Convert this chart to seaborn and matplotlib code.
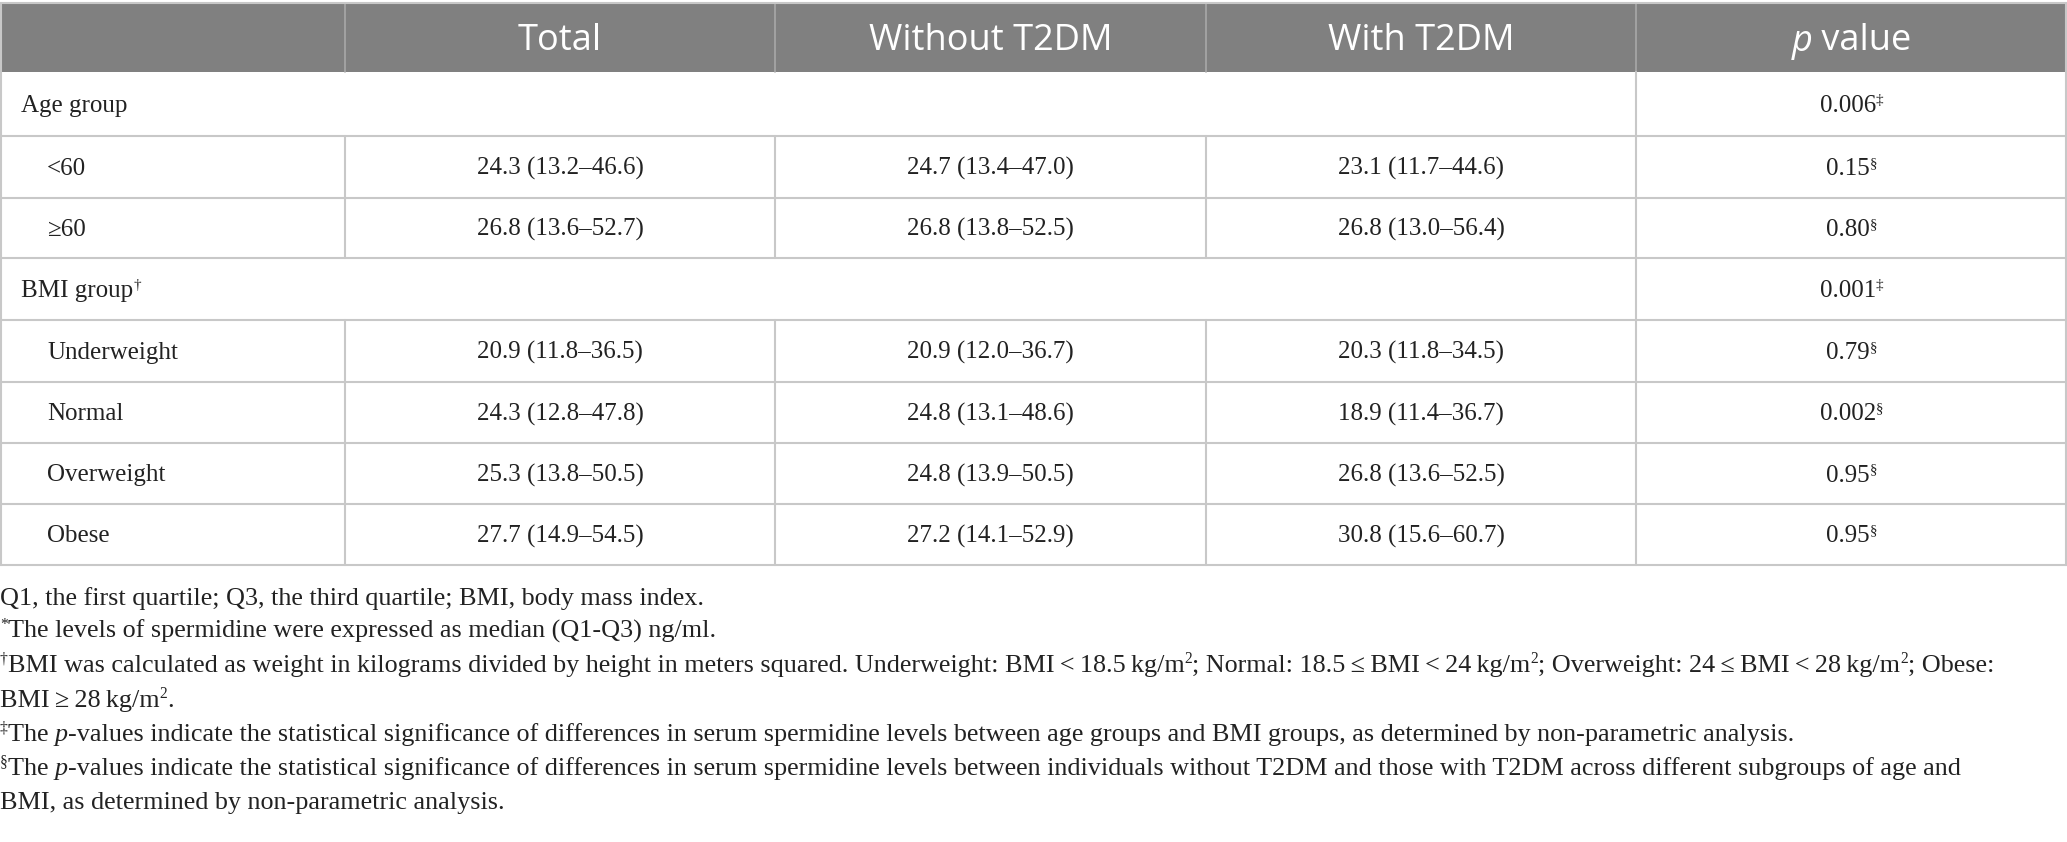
import matplotlib.pyplot as plt
import seaborn as sns

# table values: median (Q1-Q3) ng/ml, None for the group header rows
row_labels = ["Age group", "<60", "≥60", "BMI group", "Underweight", "Normal", "Overweight", "Obese"]
is_group = [True, False, False, True, False, False, False, False]
label_marks = ["", "", "", "†", "", "", "", ""]

total_med = [None, 24.3, 26.8, None, 20.9, 24.3, 25.3, 27.7]
total_q1 = [None, 13.2, 13.6, None, 11.8, 12.8, 13.8, 14.9]
total_q3 = [None, 46.6, 52.7, None, 36.5, 47.8, 50.5, 54.5]

without_med = [None, 24.7, 26.8, None, 20.9, 24.8, 24.8, 27.2]
without_q1 = [None, 13.4, 13.8, None, 12.0, 13.1, 13.9, 14.1]
without_q3 = [None, 47.0, 52.5, None, 36.7, 48.6, 50.5, 52.9]

with_med = [None, 23.1, 26.8, None, 20.3, 18.9, 26.8, 30.8]
with_q1 = [None, 11.7, 13.0, None, 11.8, 11.4, 13.6, 15.6]
with_q3 = [None, 44.6, 56.4, None, 34.5, 36.7, 52.5, 60.7]

p_values = ["0.006", "0.15", "0.80", "0.001", "0.79", "0.002", "0.95", "0.95"]
p_marks = ["‡", "§", "§", "‡", "§", "§", "§", "§"]

headers = ["", "Total", "Without T2DM", "With T2DM", "p value"]

TS = "\u2009"
footnotes = [
    [("Q1, the first quartile; Q3, the third quartile; BMI, body mass index.", "n")],
    [("*", "s"), ("The levels of spermidine were expressed as median (Q1-Q3) ng/ml.", "n")],
    [("†", "s"), ("BMI was calculated as weight in kilograms divided by height in meters squared. Underweight: BMI" + TS + "<" + TS + "18.5" + TS + "kg/m", "n"),
     ("2", "s"), ("; Normal: 18.5" + TS + "≤" + TS + "BMI" + TS + "<" + TS + "24" + TS + "kg/m", "n"),
     ("2", "s"), ("; Overweight: 24" + TS + "≤" + TS + "BMI" + TS + "<" + TS + "28" + TS + "kg/m", "n"),
     ("2", "s"), ("; Obese:", "n")],
    [("BMI" + TS + "≥" + TS + "28" + TS + "kg/m", "n"), ("2", "s"), (".", "n")],
    [("‡", "s"), ("The ", "n"), ("p", "i"), ("-values indicate the statistical significance of differences in serum spermidine levels between age groups and BMI groups, as determined by non-parametric analysis.", "n")],
    [("§", "s"), ("The ", "n"), ("p", "i"), ("-values indicate the statistical significance of differences in serum spermidine levels between individuals without T2DM and those with T2DM across different subgroups of age and", "n")],
    [("BMI, as determined by non-parametric analysis.", "n")],
]

sns.set_style("white")
plt.rcParams["font.family"] = ["Liberation Serif", "DejaVu Serif"]

W, H = 2067, 842
fig = plt.figure(figsize=(W / 100, H / 100), dpi=100)
ax = fig.add_axes([0, 0, 1, 1])
ax.set_xlim(0, W)
ax.set_ylim(H, 0)
ax.axis("off")
renderer = fig.canvas.get_renderer()

col_x = [0, 345, 775, 1206, 1636, W]
head_top, head_bot = 3, 72
row_y = [72, 136, 198, 258, 320, 382, 443, 504, 565]
header_grey = "#808080"
line_grey = "#c8c8c8"
body_size = 18
head_size = 26
sup_scale = 0.6


def text_width(s, **kw):
    # width including trailing spaces
    t1 = ax.text(0, 0, s + "|", **kw)
    t2 = ax.text(0, 0, "|", **kw)
    w = t1.get_window_extent(renderer).width - t2.get_window_extent(renderer).width
    t1.remove()
    t2.remove()
    return w


def draw_runs(x, y, runs, size, family=None, color="#222222", align="left"):
    # y is the baseline; runs of (text, kind) with kind n / i / s
    fam = family if family is not None else plt.rcParams["font.family"]
    specs = []
    for txt, kind in runs:
        kw = dict(fontsize=size, family=fam, color=color, va="baseline")
        dy = 0
        if kind == "i":
            kw["style"] = "italic"
        if kind == "s":
            kw["fontsize"] = size * sup_scale
            dy = -size * 100 / 72 * 0.33
        specs.append((txt, kw, dy, text_width(txt, **kw)))
    total = sum(s[3] for s in specs)
    if align == "center":
        x = x - total / 2
    for txt, kw, dy, w in specs:
        ax.text(x, y + dy, txt, **kw)
        x += w


# header band
ax.fill_between([0, W], head_top, head_bot, color=header_grey, lw=0)
for cx in col_x[1:-1]:
    ax.plot([cx, cx], [head_top, head_bot], color="#a8a8a8", lw=1.2)
head_base = (head_top + head_bot) / 2 + head_size * 100 / 72 * 0.36
for i, h in enumerate(headers[1:], start=1):
    cx = (col_x[i] + col_x[i + 1]) / 2
    if h.startswith("p "):
        draw_runs(cx, head_base, [("p", "i"), (" value", "n")], head_size,
                  family=["Open Sans", "DejaVu Sans"], color="white", align="center")
    else:
        draw_runs(cx, head_base, [(h, "n")], head_size,
                  family=["Open Sans", "DejaVu Sans"], color="white", align="center")

# body grid
for y in row_y[1:]:
    ax.plot([0, W], [y, y], color=line_grey, lw=1.5)
ax.plot([0, W], [head_top, head_top], color=line_grey, lw=1.5)
ax.plot([0.8, 0.8], [head_top, row_y[-1]], color=line_grey, lw=1.5)
ax.plot([W - 0.8, W - 0.8], [head_top, row_y[-1]], color=line_grey, lw=1.5)

for r in range(len(row_labels)):
    top, bot = row_y[r], row_y[r + 1]
    base = (top + bot) / 2 + body_size * 100 / 72 * 0.32
    # vertical separators
    seps = [col_x[4]] if is_group[r] else col_x[1:5]
    for cx in seps:
        ax.plot([cx, cx], [top, bot], color=line_grey, lw=1.5)
    lx = 21 if is_group[r] else 47
    runs = [(row_labels[r], "n")]
    if label_marks[r]:
        runs.append((label_marks[r], "s"))
    draw_runs(lx, base, runs, body_size)
    if not is_group[r]:
        for c, (med, q1, q3) in enumerate([(total_med, total_q1, total_q3),
                                           (without_med, without_q1, without_q3),
                                           (with_med, with_q1, with_q3)], start=1):
            cx = (col_x[c] + col_x[c + 1]) / 2
            s = "{:.1f} ({:.1f}–{:.1f})".format(med[r], q1[r], q3[r])
            draw_runs(cx, base, [(s, "n")], body_size, align="center")
    cx = (col_x[4] + col_x[5]) / 2
    draw_runs(cx, base, [(p_values[r], "n"), (p_marks[r], "s")], body_size, align="center")

# footnotes
foot_size = 18.8
foot_y = [597, 630, 664, 699, 733, 767, 801]
for y, runs in zip(foot_y, footnotes):
    draw_runs(0, y + foot_size * 100 / 72 * 0.3, runs, foot_size)

fig.savefig("out.png", dpi=100)
